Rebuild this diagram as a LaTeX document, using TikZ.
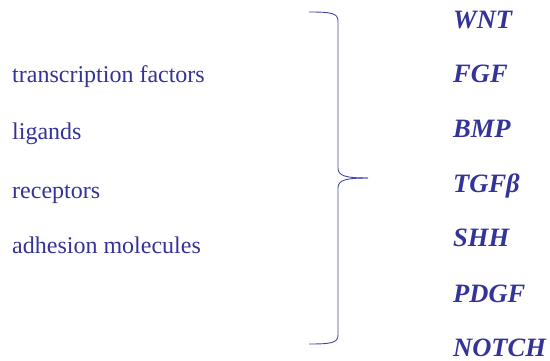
\documentclass[tikz,border=0pt]{standalone}
\usepackage{fontspec}
\setmainfont{Liberation Serif}
\begin{document}
\begin{tikzpicture}[x=1pt,y=-1pt,
  ink/.style={color={rgb,255:red,51;green,51;blue,153}},
  lefttext/.style={ink,anchor=base west,inner sep=0pt,font=\fontsize{24}{28}\selectfont},
  genetext/.style={ink,anchor=base west,inner sep=0pt,font=\fontsize{26.5}{30}\selectfont\bfseries\itshape},
  bracket/.style={draw={rgb,255:red,70;green,70;blue,170},line width=0.9pt}]
\useasboundingbox (0,0) rectangle (550,361);
% categories on the left
\node[lefttext] (tf)  at (12,83)  {transcription factors};
\node[lefttext] (lig) at (12,140) {ligands};
\node[lefttext] (rec) at (12,198) {receptors};
\node[lefttext] (adh) at (12,254) {adhesion molecules};
% gene families on the right
\node[genetext] (wnt)   at (453,29)  {WNT};
\node[genetext] (fgf)   at (453,83)  {FGF};
\node[genetext] (bmp)   at (453,138) {BMP};
\node[genetext] (tgfb)  at (453,193) {TGFβ};
\node[genetext] (shh)   at (453,247) {SHH};
\node[genetext] (pdgf)  at (453,302) {PDGF};
\node[genetext] (notch) at (453,356) {NOTCH};
% closing brace
\coordinate (btop) at (309,12);
\coordinate (btip) at (368,178);
\coordinate (bbot) at (309,344);
\draw[bracket] (btop) .. controls (331,12) and (338,13) .. (338,21)
  -- (338,168) .. controls (338,176) and (346,178) .. (btip);
\draw[bracket] (btip) .. controls (346,178) and (338,180) .. (338,188)
  -- (338,335) .. controls (338,343) and (331,344) .. (bbot);
\end{tikzpicture}
\end{document}
